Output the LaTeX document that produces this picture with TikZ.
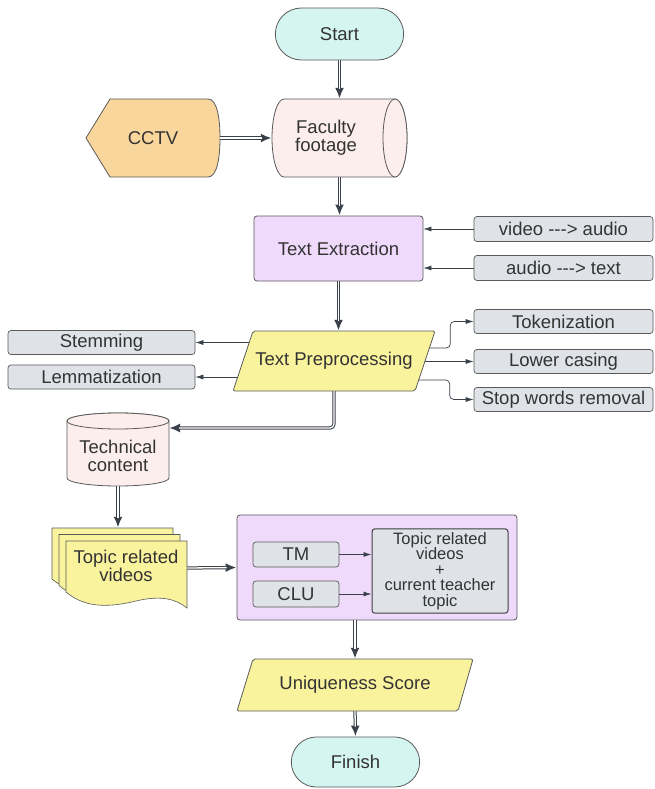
\documentclass[tikz,border=0pt]{standalone}
\usepackage{fontspec}
\setmainfont{Liberation Sans}
\usetikzlibrary{arrows.meta,shapes.misc}

\definecolor{ink}{HTML}{333333}
\definecolor{edge}{HTML}{5A5A5A}
\definecolor{wire}{HTML}{3B4149}
\definecolor{termfill}{HTML}{D5F5F0}
\definecolor{cylfill}{HTML}{FBEEEC}
\definecolor{cctvfill}{HTML}{F9D69C}
\definecolor{lilac}{HTML}{F0DAFB}
\definecolor{greyfill}{HTML}{DFE3E8}
\definecolor{yellowfill}{HTML}{FAF39E}

\tikzset{
  term/.style={rounded rectangle, draw=edge, fill=termfill, line width=0.8pt, minimum width=135pt, minimum height=52pt},
  greybox/.style={rectangle, rounded corners=3pt, draw=edge, fill=greyfill, line width=0.7pt, minimum height=25pt},
  lilacbox/.style={rectangle, rounded corners=3pt, draw=edge, fill=lilac, line width=0.8pt},
  shapeline/.style={draw=edge, line width=0.8pt},
  link/.style={draw=wire, line width=0.7pt, -{Latex[length=8pt,width=5pt]}},
  dbl/.style={draw=white, line width=1.3pt, shorten >=10pt,
    preaction={draw=wire, line width=3.3pt, shorten >=0pt, -{Latex[length=11pt,width=9pt]}}},
}

\begin{document}
\begin{tikzpicture}[x=1pt, y=-1pt, text=ink, font=\fontsize{18.5}{18}\selectfont, align=center]
\useasboundingbox[fill=white] (0,0) rectangle (654,789);

% start, source and footage
\node[term] (start) at (339.5,34) {Start};

\filldraw[shapeline, fill=cylfill] (284,99) -- (395,99) arc (-90:90:12 and 39) -- (284,177) arc (90:270:12 and 39) -- cycle;
\filldraw[shapeline, fill=cylfill] (395,138) ellipse (12 and 39);
\node[minimum width=135pt, minimum height=78pt] (foot) at (339.5,138) {};
\node (footlbl) at (326,138) {Faculty\\footage};

\filldraw[shapeline, fill=cctvfill] (110,99) -- (208,99) .. controls (217,99) and (220,118) .. (220,138) .. controls (220,158) and (217,177) .. (208,177) -- (110,177) -- (86,138) -- cycle;
\node[minimum width=134pt, minimum height=78pt] (cctv) at (153,138) {CCTV};

% extraction
\node[lilacbox, minimum width=169pt, minimum height=65pt] (extract) at (338.5,248.5) {Text Extraction};
\node[greybox, minimum width=179pt] (vidaud) at (563.5,229) {video -{}-{}-> audio};
\node[greybox, minimum width=179pt] (audtxt) at (563.5,268) {audio -{}-{}-> text};

% preprocessing
\filldraw[shapeline, fill=yellowfill, rounded corners=2pt] (253,331) -- (435,331) -- (415,391) -- (233,391) -- cycle;
\node[minimum width=202pt, minimum height=60pt] (preproc) at (334,361) {Text Preprocessing};
\coordinate (pp-s) at (249.2,342.5);
\coordinate (pp-l) at (237.7,377);
\coordinate (pp-t) at (429.3,348);
\coordinate (pp-c) at (425,361.5);
\coordinate (pp-w) at (418.7,380);

\node[greybox, minimum width=187pt, minimum height=24pt] (stem) at (101.5,342.5) {Stemming};
\node[greybox, minimum width=187pt, minimum height=24pt] (lemma) at (101.5,377) {Lemmatization};
\node[greybox, minimum width=179pt, minimum height=24pt] (token) at (563.5,321.5) {Tokenization};
\node[greybox, minimum width=179pt, minimum height=24pt] (lower) at (563.5,361.5) {Lower casing};
\node[greybox, minimum width=179pt, minimum height=24pt] (stopw) at (563.5,399.5) {Stop words removal};

% technical content store
\filldraw[shapeline, fill=cylfill] (67,421) -- (67,478) arc (180:0:51 and 8) -- (169,421) arc (0:-180:51 and 8) -- cycle;
\filldraw[shapeline, fill=cylfill] (118,421) ellipse (51 and 8);
\node[minimum width=102pt, minimum height=73pt] (techdb) at (118,449.5) {};
\node (techlbl) at (118,456) {Technical\\content};
\coordinate (tc-in) at (169,428);

% stacked documents
\foreach \dx/\dy in {0/0, 7/6.5, 14/13} {
  \begin{scope}[shift={(52+\dx,528+\dy)}]
    \filldraw[shapeline, fill=yellowfill, line width=0.6pt] (0,0) -- (121,0) -- (121,67) .. controls (110,58) and (95,54) .. (70,60) .. controls (45,66) and (20,68) .. (0,51) -- cycle;
  \end{scope}
}
\node[minimum width=135pt, minimum height=80pt] (topicvid) at (119.5,568) {};
\node (topiclbl) at (126,566) {Topic related\\videos};

% scoring block
\node[lilacbox, minimum width=280pt, minimum height=105pt] (umodel) at (377,567.5) {};
\node[greybox, minimum width=86pt, minimum height=25pt] (tm) at (296,554.5) {TM};
\node[greybox, minimum width=86pt, minimum height=26pt] (clu) at (296,594) {CLU};
\node[rectangle, rounded corners=3pt, draw=black!75, fill=greyfill, line width=1pt, minimum width=136pt, minimum height=84pt, font=\fontsize{16.5}{15.6}\selectfont] (merge) at (440,571) {Topic related\\videos\\+\\current teacher\\topic};

\filldraw[shapeline, fill=yellowfill, rounded corners=2pt] (253,659) -- (473,659) -- (458,711) -- (237,711) -- cycle;
\node[minimum width=236pt, minimum height=52pt] (uscore) at (355,685) {Uniqueness Score};

\node[term, minimum height=50pt] (finish) at (355.5,762) {Finish};

% connectors
\draw[dbl] (start.south) -- (start.south |- foot.north);
\draw[dbl] (cctv.east) -- (foot.west);
\draw[dbl] (foot.south) -- (foot.south |- extract.north);
\draw[link] (vidaud.west) -- (vidaud.west -| extract.east);
\draw[link] (audtxt.west) -- (audtxt.west -| extract.east);
\draw[dbl] (extract.south) -- (extract.south |- preproc.north);
\draw[link] (pp-s) -- (pp-s -| stem.east);
\draw[link] (pp-l) -- (pp-l -| lemma.east);
\draw[link, rounded corners=4pt] (pp-t) -- ++(21,0) |- (token.west);
\draw[link] (pp-c) -- (pp-c -| lower.west);
\draw[link, rounded corners=4pt] (pp-w) -- ++(31,0) |- (stopw.west);
\draw[dbl, rounded corners=4pt] (preproc.south) |- (tc-in);
\draw[dbl] (techdb.south) -- (techdb.south |- topicvid.north);
\draw[dbl] (topicvid.east) -- (umodel.west);
\draw[link] (tm.east) -- (tm.east -| merge.west);
\draw[link] (clu.east) -- (clu.east -| merge.west);
\draw[dbl] (uscore.north |- umodel.south) -- (uscore.north);
\draw[dbl] (uscore.south) -- (finish.north);
\end{tikzpicture}
\end{document}
